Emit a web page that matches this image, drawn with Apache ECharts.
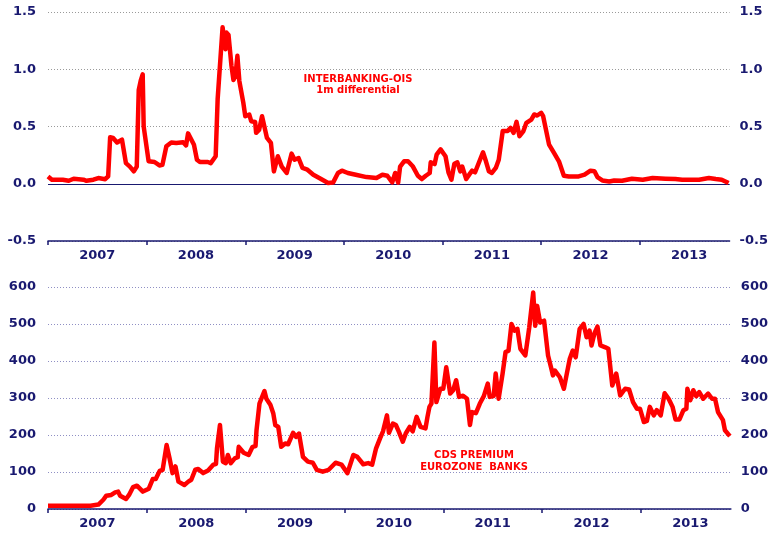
<!DOCTYPE html>
<html>
<head>
<meta charset="utf-8">
<script src="https://cdn.jsdelivr.net/npm/echarts@6/dist/echarts.min.js"></script>
<style>
	html, body { margin: 0; padding: 0; background: #ffffff; }
	#main { width: 771px; height: 534px; }
</style>
</head>
<body>
<div id="main"></div>
<script>
var years = [2007, 2008, 2009, 2010, 2011, 2012, 2013]

// interbanking - OIS 1m differential (decimal years)
var oisDates = [2007.00, 2007.04, 2007.15, 2007.21, 2007.26, 2007.36, 2007.39, 2007.46, 2007.51, 2007.58,
	2007.61, 2007.63, 2007.66, 2007.70, 2007.72, 2007.75, 2007.79, 2007.83, 2007.87, 2007.90,
	2007.92, 2007.94, 2007.96, 2007.97, 2008.02, 2008.08, 2008.13, 2008.16, 2008.20, 2008.25,
	2008.30, 2008.37, 2008.40, 2008.42, 2008.44, 2008.48, 2008.51, 2008.54, 2008.62, 2008.65,
	2008.70, 2008.72, 2008.77, 2008.80, 2008.81, 2008.83, 2008.86, 2008.88, 2008.90, 2008.92,
	2008.94, 2008.98, 2009.00, 2009.04, 2009.06, 2009.10, 2009.11, 2009.14, 2009.17, 2009.22,
	2009.26, 2009.29, 2009.33, 2009.37, 2009.42, 2009.47, 2009.50, 2009.54, 2009.58, 2009.63,
	2009.69, 2009.75, 2009.84, 2009.89, 2009.94, 2009.98, 2010.04, 2010.12, 2010.23, 2010.28,
	2010.33, 2010.39, 2010.44, 2010.49, 2010.52, 2010.55, 2010.57, 2010.61, 2010.65, 2010.70,
	2010.75, 2010.79, 2010.83, 2010.87, 2010.88, 2010.92, 2010.94, 2010.98, 2011.03, 2011.06,
	2011.09, 2011.12, 2011.15, 2011.18, 2011.20, 2011.24, 2011.27, 2011.30, 2011.33, 2011.41,
	2011.44, 2011.47, 2011.50, 2011.54, 2011.57, 2011.61, 2011.66, 2011.69, 2011.72, 2011.75,
	2011.78, 2011.82, 2011.85, 2011.90, 2011.93, 2011.96, 2012.00, 2012.02, 2012.08, 2012.13,
	2012.18, 2012.23, 2012.28, 2012.38, 2012.44, 2012.45, 2012.50, 2012.54, 2012.57, 2012.62,
	2012.69, 2012.74, 2012.82, 2012.92, 2013.03, 2013.13, 2013.26, 2013.36, 2013.43, 2013.60,
	2013.70, 2013.77, 2013.83, 2013.90]
var oisValues = [0.064, 0.035, 0.035, 0.026, 0.044, 0.035, 0.026, 0.035, 0.05, 0.04,
	0.064, 0.406, 0.40, 0.36, 0.35, 0.386, 0.18, 0.15, 0.108, 0.15,
	0.82, 0.90, 0.956, 0.50, 0.196, 0.19, 0.16, 0.165, 0.327, 0.36,
	0.355, 0.363, 0.335, 0.44, 0.44, 0.34, 0.21, 0.19, 0.19, 0.18,
	0.24, 0.74, 1.366, 1.175, 1.32, 1.30, 1.03, 0.906, 0.94, 1.117,
	0.897, 0.708, 0.59, 0.605, 0.546, 0.54, 0.445, 0.47, 0.59, 0.40,
	0.357, 0.108, 0.24, 0.15, 0.094, 0.263, 0.21, 0.225, 0.138, 0.123,
	0.079, 0.05, 0.006, 0.01, 0.094, 0.114, 0.094, 0.079, 0.058, 0.055,
	0.05, 0.079, 0.07, 0.012, 0.094, 0.01, 0.15, 0.196, 0.196, 0.15,
	0.07, 0.041, 0.07, 0.094, 0.187, 0.172, 0.254, 0.30, 0.24, 0.10,
	0.035, 0.175, 0.187, 0.108, 0.15, 0.041, 0.079, 0.114, 0.10, 0.275,
	0.196, 0.108, 0.094, 0.138, 0.21, 0.46, 0.46, 0.488, 0.445, 0.54,
	0.415, 0.46, 0.532, 0.56, 0.605, 0.596, 0.62, 0.59, 0.342, 0.269,
	0.196, 0.07, 0.064, 0.064, 0.079, 0.07, 0.114, 0.11, 0.058, 0.029,
	0.02, 0.029, 0.026, 0.044, 0.035, 0.05, 0.044, 0.041, 0.035, 0.035,
	0.05, 0.041, 0.035, 0.006]

// CDS premium, eurozone banks
var cdsDates = [2007.00, 2007.43, 2007.51, 2007.56, 2007.59, 2007.64, 2007.68, 2007.71, 2007.73, 2007.79,
	2007.82, 2007.86, 2007.90, 2007.93, 2007.96, 2008.02, 2008.06, 2008.09, 2008.13, 2008.16,
	2008.20, 2008.23, 2008.26, 2008.29, 2008.32, 2008.38, 2008.42, 2008.45, 2008.49, 2008.52,
	2008.57, 2008.62, 2008.67, 2008.70, 2008.71, 2008.73, 2008.74, 2008.77, 2008.80, 2008.82,
	2008.85, 2008.89, 2008.92, 2008.93, 2008.98, 2009.03, 2009.07, 2009.10, 2009.11, 2009.14,
	2009.16, 2009.19, 2009.21, 2009.25, 2009.28, 2009.30, 2009.33, 2009.36, 2009.40, 2009.43,
	2009.48, 2009.51, 2009.54, 2009.58, 2009.63, 2009.68, 2009.72, 2009.78, 2009.84, 2009.91,
	2009.97, 2010.03, 2010.09, 2010.13, 2010.19, 2010.24, 2010.28, 2010.32, 2010.36, 2010.39,
	2010.43, 2010.45, 2010.49, 2010.52, 2010.55, 2010.59, 2010.62, 2010.66, 2010.69, 2010.73,
	2010.77, 2010.82, 2010.84, 2010.86, 2010.88, 2010.91, 2010.93, 2010.97, 2011.00, 2011.03,
	2011.07, 2011.10, 2011.13, 2011.16, 2011.20, 2011.24, 2011.27, 2011.29, 2011.33, 2011.37,
	2011.41, 2011.45, 2011.47, 2011.51, 2011.53, 2011.56, 2011.60, 2011.63, 2011.66, 2011.69,
	2011.72, 2011.75, 2011.78, 2011.83, 2011.87, 2011.91, 2011.93, 2011.95, 2011.98, 2012.02,
	2012.06, 2012.09, 2012.11, 2012.13, 2012.18, 2012.22, 2012.25, 2012.28, 2012.31, 2012.34,
	2012.38, 2012.42, 2012.45, 2012.48, 2012.50, 2012.53, 2012.56, 2012.59, 2012.64, 2012.67,
	2012.71, 2012.75, 2012.79, 2012.84, 2012.88, 2012.92, 2012.96, 2012.99, 2013.03, 2013.06,
	2013.09, 2013.13, 2013.16, 2013.20, 2013.24, 2013.28, 2013.32, 2013.35, 2013.39, 2013.43,
	2013.46, 2013.47, 2013.50, 2013.53, 2013.56, 2013.59, 2013.63, 2013.68, 2013.72, 2013.75,
	2013.78, 2013.83, 2013.85, 2013.90]
var cdsValues = [9, 9, 12, 25, 36, 38, 45, 47, 36, 27,
	38, 59, 63, 55, 47, 55, 81, 81, 103, 106,
	173, 137, 97, 115, 74, 65, 74, 79, 106, 108,
	97, 104, 119, 122, 164, 164, 227, 128, 124, 146,
	124, 137, 140, 168, 152, 146, 168, 170, 213, 285,
	288, 319, 298, 282, 258, 227, 222, 168, 177, 175,
	206, 195, 204, 141, 128, 125, 106, 101, 106, 125,
	120, 97, 146, 141, 121, 124, 120, 164, 191, 210,
	253, 206, 231, 227, 209, 182, 204, 222, 210, 249,
	222, 218, 249, 276, 285, 450, 289, 325, 325, 383,
	312, 321, 348, 303, 306, 298, 227, 262, 259, 285,
	305, 339, 303, 305, 366, 298, 366, 424, 428, 500,
	482, 487, 433, 415, 491, 585, 495, 549, 504, 509,
	415, 383, 361, 374, 356, 325, 366, 406, 428, 410,
	487, 500, 464, 482, 442, 475, 493, 442, 437, 433,
	334, 366, 307, 325, 323, 289, 271, 271, 235, 238,
	276, 253, 267, 253, 313, 298, 276, 242, 242, 267,
	271, 325, 294, 321, 305, 316, 298, 312, 298, 298,
	262, 240, 213, 197]

function pairs(xs, ys) {
	var out = []
	for (var i = 0; i < xs.length; i++) out.push([xs[i], ys[i]])
	return out
}

var navy = '#191970'
var fontFam = 'DejaVu Sans, Verdana, sans-serif'
var tickVals = years.slice()
var labelVals = years.map(function (y) { return y + 0.5 })

function xAxisFor(gridIndex) {
	return {
		type: 'value', gridIndex: gridIndex, min: 2007, max: 2013.91,
		axisLine: { onZero: false, lineStyle: { color: navy, width: 1.5 } },
		axisTick: { show: true, customValues: tickVals, length: 4, lineStyle: { color: navy, width: 1.5 } },
		axisLabel: {
			customValues: labelVals, margin: 8, color: navy, fontWeight: 'bold', fontSize: 13, fontFamily: fontFam,
			formatter: function (v) { return String(Math.floor(v)) }
		},
		splitLine: { show: false }
	}
}

function yAxisFor(gridIndex, min, max, step, pos, grid, digits, gridColor) {
	return {
		type: 'value', gridIndex: gridIndex, position: pos, min: min, max: max, interval: step,
		axisLine: { show: false }, axisTick: { show: false },
		axisLabel: {
			margin: pos === 'left' ? 12 : 10, color: navy, fontWeight: 'bold', fontSize: 13, fontFamily: fontFam,
			formatter: function (v) { return v.toFixed(digits) }
		},
		splitLine: { show: grid, lineStyle: { color: gridColor, type: [1, 2], width: 1 } }
	}
}

var myChart = echarts.init(document.getElementById('main'), null, { renderer: 'canvas' })
var option = {
	animation: false,
	backgroundColor: '#ffffff',
	grid: [
		{ left: 48, right: 39, top: 12, height: 229 },
		{ left: 48, right: 39, top: 287, height: 222 }
	],
	xAxis: [xAxisFor(0), xAxisFor(1)],
	yAxis: [
		yAxisFor(0, -0.5, 1.5, 0.5, 'left', true, 1, '#9a9a9a'),
		yAxisFor(0, -0.5, 1.5, 0.5, 'right', false, 1, '#9a9a9a'),
		yAxisFor(1, 0, 600, 100, 'left', true, 0, '#8f8fc4'),
		yAxisFor(1, 0, 600, 100, 'right', false, 0, '#8f8fc4')
	],
	graphic: [
		{
			type: 'text', x: 358, y: 85, z: 10,
			style: {
				text: 'INTERBANKING-OIS\n1m differential', fill: '#ff0000', font: 'bold 10px DejaVu Sans',
				textAlign: 'center', textVerticalAlign: 'middle', lineHeight: 11.5
			}
		},
		{
			type: 'text', x: 474, y: 461, z: 10,
			style: {
				text: 'CDS PREMIUM\nEUROZONE  BANKS', fill: '#ff0000', font: 'bold 10px DejaVu Sans',
				textAlign: 'center', textVerticalAlign: 'middle', lineHeight: 12
			}
		}
	],
	series: [
		{
			name: 'INTERBANKING-OIS', type: 'line', xAxisIndex: 0, yAxisIndex: 0,
			data: pairs(oisDates, oisValues), showSymbol: false, smooth: false, z: 3,
			lineStyle: { color: '#ff0000', width: 4.5, join: 'round' },
			markLine: {
				silent: true, symbol: 'none', label: { show: false }, z: 2,
				lineStyle: { color: navy, width: 1.2, type: 'solid' },
				data: [{ yAxis: 0 }]
			}
		},
		{
			name: 'CDS PREMIUM', type: 'line', xAxisIndex: 1, yAxisIndex: 2,
			data: pairs(cdsDates, cdsValues), showSymbol: false, smooth: false, z: 3,
			lineStyle: { color: '#ff0000', width: 4.5, join: 'round' }
		}
	]
}
myChart.setOption(option)
</script>
</body>
</html>
